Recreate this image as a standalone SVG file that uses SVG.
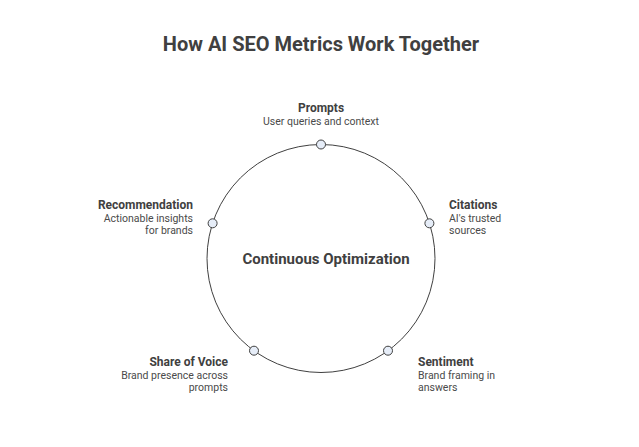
<svg xmlns="http://www.w3.org/2000/svg" width="639" height="447" viewBox="0 0 639 447">
<style>
.t{font-family:Roboto,"Liberation Sans",sans-serif;fill:#404040}
.title{font-size:20px;font-weight:bold;text-anchor:middle}
.h{font-size:12px;font-weight:bold}
.d{font-size:10.5px;fill:#4a4a4a}
.dot{fill:#e6edf8;stroke:#404040;stroke-width:1}
</style>
<rect width="639" height="447" fill="#ffffff"/>
<text class="t title" x="321" y="51">How AI SEO Metrics Work Together</text>
<g id="connectors">
<circle cx="321" cy="258.5" r="114" fill="none" stroke="#404040" stroke-width="1"/>
</g>
<g id="center"><text class="t" x="326" y="264" font-size="15" font-weight="bold" text-anchor="middle">Continuous Optimization</text></g>
<g id="prompts">
<circle class="dot" cx="321" cy="144.5" r="4.5"/>
<text class="t h" x="321" y="112" text-anchor="middle">Prompts</text>
<text class="t d" x="321" y="125" text-anchor="middle">User queries and context</text>
</g>
<g id="citations">
<circle class="dot" cx="429.4" cy="223.3" r="4.5"/>
<text class="t h" x="449" y="209">Citations</text>
<text class="t d" x="449" y="222">AI's trusted</text>
<text class="t d" x="449" y="234">sources</text>
</g>
<g id="sentiment">
<circle class="dot" cx="388" cy="350.7" r="4.5"/>
<text class="t h" x="418" y="366">Sentiment</text>
<text class="t d" x="418" y="379">Brand framing in</text>
<text class="t d" x="418" y="391">answers</text>
</g>
<g id="share">
<circle class="dot" cx="254" cy="350.7" r="4.5"/>
<text class="t h" x="228" y="366" text-anchor="end">Share of Voice</text>
<text class="t d" x="228" y="379" text-anchor="end">Brand presence across</text>
<text class="t d" x="228" y="391" text-anchor="end">prompts</text>
</g>
<g id="recommendation">
<circle class="dot" cx="212.6" cy="223.3" r="4.5"/>
<text class="t h" x="193" y="209" text-anchor="end">Recommendation</text>
<text class="t d" x="193" y="222" text-anchor="end">Actionable insights</text>
<text class="t d" x="193" y="234" text-anchor="end">for brands</text>
</g>
</svg>
